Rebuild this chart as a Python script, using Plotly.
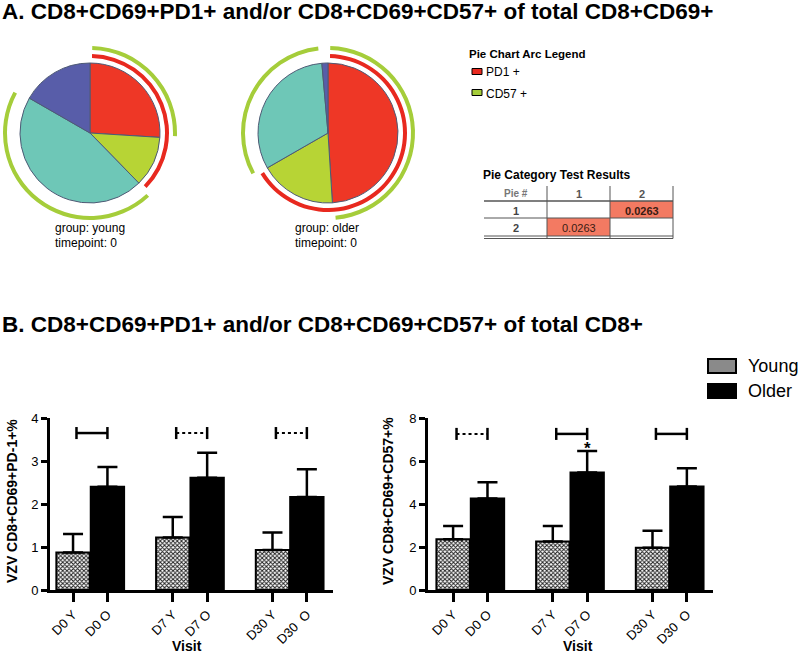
import plotly.graph_objects as go

W, H = 800, 654

# ---------------- Panel A data ----------------
pie_groups = ["young", "older"]
pie_timepoints = [0, 0]
pie_categories = ["PD1+ CD57+", "PD1+ CD57-", "PD1- CD57+", "PD1- CD57-"]
pie_young = [26.0, 11.7, 45.6, 16.7]
pie_older = [49.0, 17.7, 31.9, 1.4]
pd1_positive = [True, True, False, False]
cd57_positive = [True, False, True, False]
arc_legend_labels = ["PD1 +", "CD57 +"]
test_pie_ids = ["1", "2"]
test_pvalues = [[None, "0.0263"], ["0.0263", None]]

# ---------------- Panel B data ----------------
visit_labels = ["D0 Y", "D0 O", "D7 Y", "D7 O", "D30 Y", "D30\u00a0 O"]
age_groups = ["Young", "Older"]
pd1_young_mean = [0.87, 1.22, 0.93]
pd1_young_sem = [0.43, 0.48, 0.41]
pd1_older_mean = [2.40, 2.61, 2.16]
pd1_older_sem = [0.46, 0.58, 0.65]
cd57_young_mean = [2.36, 2.25, 1.97]
cd57_young_sem = [0.62, 0.73, 0.79]
cd57_older_mean = [4.26, 5.46, 4.81]
cd57_older_sem = [0.75, 1.01, 0.85]
pd1_bracket_level = 3.65
cd57_bracket_level = 7.26
pd1_bracket_dash = ["solid", "dot", "dot"]
cd57_bracket_dash = ["dot", "solid", "solid"]
cd57_star = ["", "*", ""]
pd1_yticks = [0, 1, 2, 3, 4]
cd57_yticks = [0, 2, 4, 6, 8]

FONT = "Liberation Sans, Arial, sans-serif"
SLICE_COLORS = ["#EE3726", "#B7D435", "#6EC7B7", "#585DA9"]
ARC_COLORS = ["#E8291F", "#A5CD3A"]
GROUP_SWATCH = ["#8a8a8a", "black"]


def px(x):
    return x / W


def py(y):
    return 1 - y / H


fig = go.Figure()
annotations = []
shapes = []


def ann(text, x, y, size=12, bold=False, xanchor="left", yanchor="middle", color="black", **kw):
    if bold:
        text = "<b>" + text + "</b>"
    annotations.append(dict(text=text, x=px(x), y=py(y), xref="paper", yref="paper",
                            xanchor=xanchor, yanchor=yanchor, showarrow=False,
                            font=dict(family=FONT, size=size, color=color), **kw))


# ---------------- Pies with arcs ----------------
pie_centers = [(90, 133), (328, 133)]
PIE_R = 70
POLAR_R = 90
arc_radii = [(75, 4), (83, 4)]  # (inner radius, thickness) for PD1, CD57
GAP = 1.5

for i, (vals, grp, tp) in enumerate(zip([pie_young, pie_older], pie_groups, pie_timepoints)):
    cx, cy = pie_centers[i]
    fig.add_trace(go.Pie(
        values=vals, labels=pie_categories, sort=False, direction="clockwise", rotation=0,
        textinfo="none", showlegend=False,
        marker=dict(colors=SLICE_COLORS, line=dict(color="#4E5A75", width=1)),
        domain=dict(x=[px(cx - PIE_R), px(cx + PIE_R)], y=[py(cy + PIE_R), py(cy - PIE_R)]),
    ))
    total = sum(vals)
    bounds = [0]
    for v in vals:
        bounds.append(bounds[-1] + v / total * 360)
    polar_name = "polar" if i == 0 else "polar%d" % (i + 1)
    for flags, (r0, th), col in zip([pd1_positive, cd57_positive], arc_radii, ARC_COLORS):
        runs = []
        j = 0
        while j < len(flags):
            if flags[j]:
                k = j
                while k + 1 < len(flags) and flags[k + 1]:
                    k += 1
                runs.append((bounds[j], bounds[k + 1]))
                j = k + 1
            else:
                j += 1
        thetas = [(a + b) / 2 for a, b in runs]
        widths = [(b - a) - 2 * GAP for a, b in runs]
        fig.add_trace(go.Barpolar(
            theta=thetas, width=widths, r=[th] * len(runs), base=[r0] * len(runs),
            marker=dict(color=col, line=dict(width=0)), showlegend=False, hoverinfo="skip",
            subplot=polar_name,
        ))
    fig.update_layout(**{polar_name: dict(
        domain=dict(x=[px(cx - POLAR_R), px(cx + POLAR_R)], y=[py(cy + POLAR_R), py(cy - POLAR_R)]),
        bgcolor="rgba(0,0,0,0)",
        radialaxis=dict(range=[0, POLAR_R], visible=False),
        angularaxis=dict(visible=False, rotation=90, direction="clockwise"),
    )})
    lx = [53, 293][i]
    ann("group: " + grp, lx, 228, size=12)
    ann("timepoint: " + str(tp), lx, 243, size=12)

# Titles
ann("A. CD8+CD69+PD1+ and/or CD8+CD69+CD57+ of total CD8+CD69+", 0, 11, size=22.5, bold=True)
ann("B. CD8+CD69+PD1+ and/or CD8+CD69+CD57+ of total CD8+", 0, 324, size=22.5, bold=True)

# Arc legend
ann("Pie Chart Arc Legend", 467, 54, size=11.5, bold=True)
for k, (lab, col) in enumerate(zip(arc_legend_labels, ARC_COLORS)):
    yc = 71.5 + k * 21
    shapes.append(dict(type="rect", xref="paper", yref="paper", x0=px(472), x1=px(482),
                       y0=py(yc + 3), y1=py(yc - 3), fillcolor=col, line=dict(color="black", width=1)))
    ann(lab, 484, yc + 1, size=12)

# Test results table
ann("Pie Category Test Results", 481, 175, size=12, bold=True)
col_x = [484, 547, 610, 673]
row_y = [186, 201, 218, 236]
for r in range(2):
    for c in range(2):
        v = test_pvalues[r][c]
        if v is not None:
            shapes.append(dict(type="rect", xref="paper", yref="paper",
                               x0=px(col_x[c + 1]), x1=px(col_x[c + 2]),
                               y0=py(row_y[r + 2]), y1=py(row_y[r + 1]),
                               fillcolor="#F37A62", line=dict(width=0), layer="below"))
            ann(v, (col_x[c + 1] + col_x[c + 2]) / 2, (row_y[r + 1] + row_y[r + 2]) / 2 + 1,
                size=11, xanchor="center", color="#3a1a12", bold=(r == 0))
for yl, wl in [(201, 1.5), (218, 1), (236, 1), (238.5, 1)]:
    shapes.append(dict(type="line", xref="paper", yref="paper", x0=px(484), x1=px(673),
                       y0=py(yl), y1=py(yl), line=dict(color="#555", width=wl)))
for xl in col_x[1:]:
    shapes.append(dict(type="line", xref="paper", yref="paper", x0=px(xl), x1=px(xl),
                       y0=py(186), y1=py(238.5), line=dict(color="#555", width=1)))
ann("Pie #", (col_x[0] + col_x[1]) / 2, 194, size=10, bold=True, xanchor="center", color="#777")
for c, pid in enumerate(test_pie_ids):
    ann(pid, (col_x[c + 1] + col_x[c + 2]) / 2, 194, size=11, bold=True, xanchor="center", color="#555")
    ann(pid, (col_x[0] + col_x[1]) / 2, (row_y[c + 1] + row_y[c + 2]) / 2 + 1, size=11, bold=True,
        xanchor="center", color="#444")

# ---------------- Bar charts ----------------
GROUP_STEP = 2.9
positions_y = [g * GROUP_STEP for g in range(3)]
positions_o = [g * GROUP_STEP + 1 for g in range(3)]
tick_pos = [p for pair in zip(positions_y, positions_o) for p in pair]

young_marker = dict(color="white", line=dict(color="black", width=2),
                    pattern=dict(shape="x", size=3, solidity=0.55, fgcolor="#222222", bgcolor="white"))
older_marker = dict(color="black", line=dict(color="black", width=2))

panels = [
    dict(xa="x", ya="y", ym=pd1_young_mean, ys=pd1_young_sem, om=pd1_older_mean, os=pd1_older_sem,
         lvl=pd1_bracket_level, dash=pd1_bracket_dash, stars=["", "", ""], tick_h=0.14),
    dict(xa="x2", ya="y2", ym=cd57_young_mean, ys=cd57_young_sem, om=cd57_older_mean, os=cd57_older_sem,
         lvl=cd57_bracket_level, dash=cd57_bracket_dash, stars=cd57_star, tick_h=0.28),
]

for p in panels:
    fig.add_trace(go.Bar(x=positions_y, y=p["ym"], width=0.97, name=age_groups[0], marker=young_marker,
                         error_y=dict(type="data", array=p["ys"], arrayminus=[0] * 3, symmetric=False,
                                      color="black", thickness=2.5, width=10),
                         xaxis=p["xa"], yaxis=p["ya"], showlegend=False))
    fig.add_trace(go.Bar(x=positions_o, y=p["om"], width=0.97, name=age_groups[1], marker=older_marker,
                         error_y=dict(type="data", array=p["os"], arrayminus=[0] * 3, symmetric=False,
                                      color="black", thickness=2.5, width=10),
                         xaxis=p["xa"], yaxis=p["ya"], showlegend=False))
    for g in range(3):
        fig.add_trace(go.Scatter(
            x=[positions_y[g] + 0.1, positions_o[g]], y=[p["lvl"], p["lvl"]], mode="lines",
            line=dict(color="black", width=2.5 if p["dash"][g] == "solid" else 2, dash=p["dash"][g]),
            error_y=dict(type="constant", value=p["tick_h"], color="black", thickness=2.5, width=0),
            xaxis=p["xa"], yaxis=p["ya"], showlegend=False, hoverinfo="skip"))
        if p["stars"][g]:
            annotations.append(dict(text="<b>" + p["stars"][g] + "</b>", x=positions_o[g],
                                    y=p["om"][g] + p["os"][g], xref=p["xa"], yref=p["ya"],
                                    showarrow=False, yanchor="bottom", yshift=-9,
                                    font=dict(family=FONT, size=17, color="black")))

# group legend (swatches + labels)
for k, (lab, col) in enumerate(zip(age_groups, GROUP_SWATCH)):
    yc = 366 + k * 25
    shapes.append(dict(type="rect", xref="paper", yref="paper", x0=px(708), x1=px(736),
                       y0=py(yc + 7), y1=py(yc - 7), fillcolor=col, line=dict(color="black", width=2)))
    ann(lab, 746, yc, size=18)

axis_common = dict(showline=True, linewidth=3, linecolor="black", showgrid=False, zeroline=False,
                   ticks="outside", tickcolor="black", fixedrange=True, automargin=False,
                   tickfont=dict(family=FONT, size=13, color="black"))

fig.update_layout(
    xaxis=dict(domain=[px(50), px(333)], range=[-0.67, 7.56], anchor="y", tickvals=tick_pos,
               ticktext=visit_labels, tickangle=-45, ticklen=9, tickwidth=3, **axis_common),
    yaxis=dict(domain=[py(590), py(418)], range=[0, 4], anchor="x", tickvals=pd1_yticks,
               ticklen=6, tickwidth=2.5, **axis_common),
    xaxis2=dict(domain=[px(428), px(713)], range=[-0.73, 7.56], anchor="y2", tickvals=tick_pos,
                ticktext=visit_labels, tickangle=-45, ticklen=9, tickwidth=3, **axis_common),
    yaxis2=dict(domain=[py(590), py(418)], range=[0, 8], anchor="x2", tickvals=cd57_yticks,
                ticklen=6, tickwidth=2.5, **axis_common),
)

ann("VZV CD8+CD69+PD-1+%", 12, 501, size=14, bold=True, xanchor="center", textangle=-90)
ann("VZV CD8+CD69+CD57+%", 388, 501, size=14, bold=True, xanchor="center", textangle=-90)
ann("Visit", 187, 646, size=14, bold=True, xanchor="center")
ann("Visit", 578, 646, size=14, bold=True, xanchor="center")

fig.update_layout(
    template="none",
    width=W, height=H, margin=dict(l=0, r=0, t=0, b=0, autoexpand=False),
    paper_bgcolor="white", plot_bgcolor="rgba(0,0,0,0)",
    barmode="overlay", showlegend=False,
    font=dict(family=FONT, color="black"),
    annotations=annotations, shapes=shapes,
)

fig.write_html("out.html", config={"displayModeBar": False},
               post_script="document.body.style.margin='0px';document.body.style.overflow='hidden';")
